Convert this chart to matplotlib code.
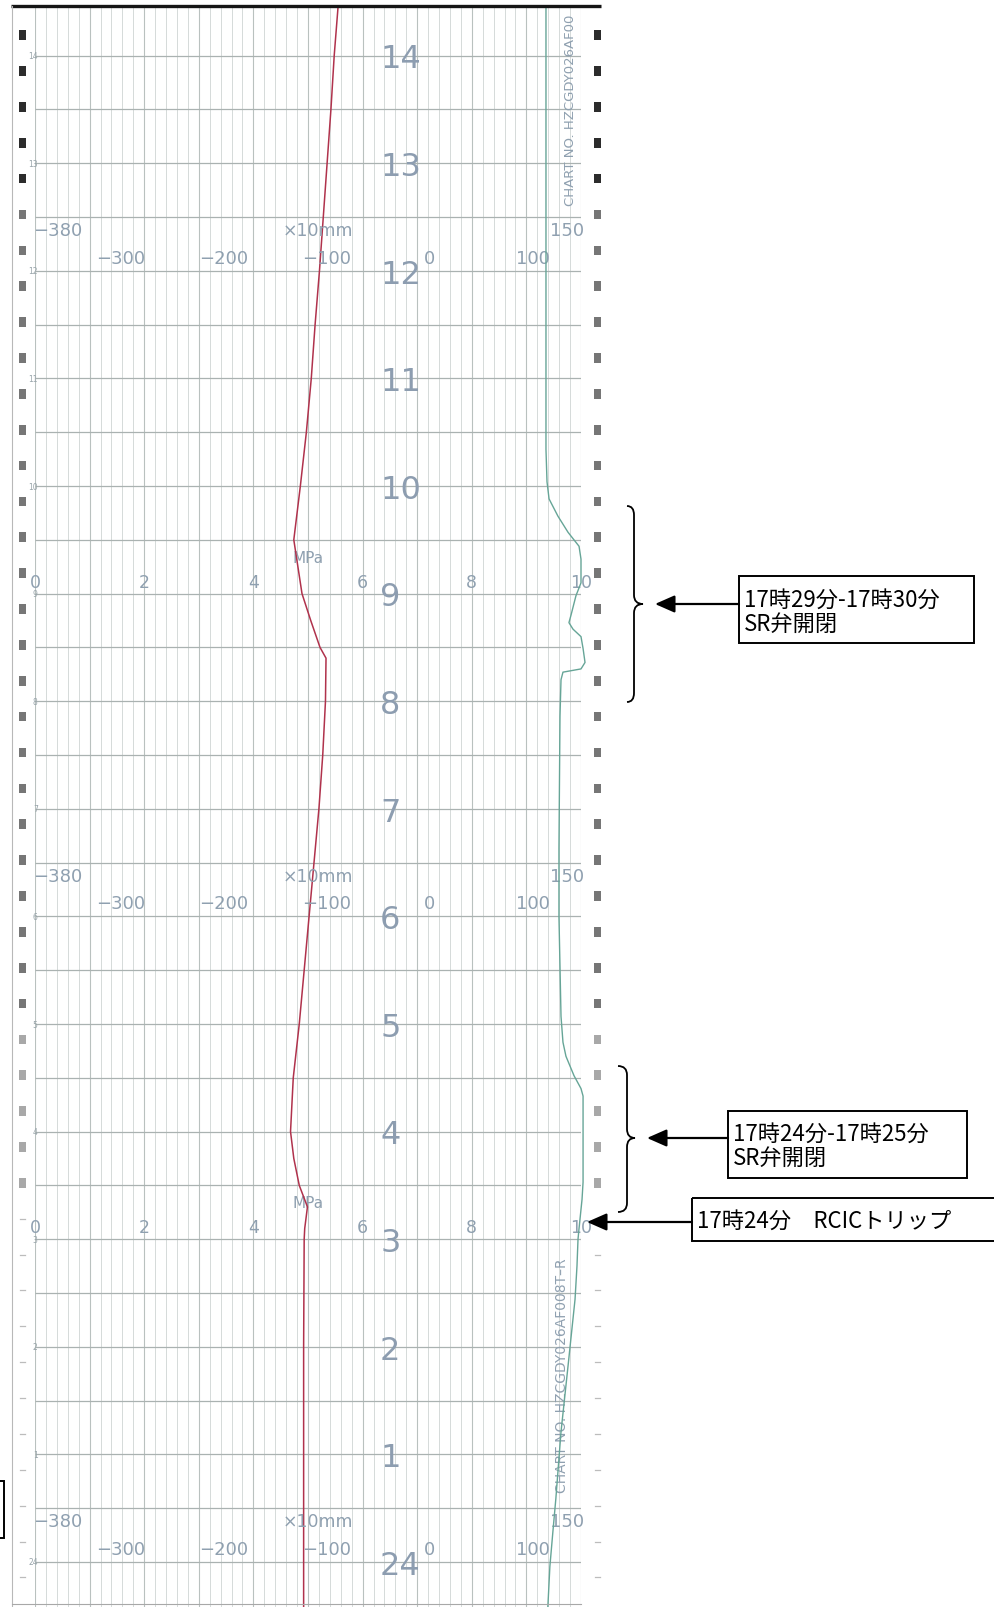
import numpy as np
import matplotlib
matplotlib.use('Agg')
import matplotlib.pyplot as plt
from matplotlib.patches import Rectangle, PathPatch
from matplotlib.path import Path
import matplotlib.transforms as mtransforms

# ---------------- data ----------------
hour_labels = ['24', '1', '2', '3', '4', '5', '6', '7', '8', '9', '10', '11', '12', '13', '14']
hour_levels = list(range(15))

mpa_ticks = [0, 2, 4, 6, 8, 10]
level_ticks = [-300, -200, -100, 0, 100]
level_min, level_max = -380, 150

# red pen (pressure, MPa) against chart position
red_pos = [14.45, 14.0, 13.5, 13.0, 12.5, 12.0, 11.5, 11.0, 10.5, 10.0, 9.5, 9.0, 8.75,
           8.5, 8.4, 8.0, 7.5, 7.0, 6.5, 6.0, 5.5, 5.0, 4.5, 4.0, 3.75, 3.5, 3.3, 3.1,
           3.0, 2.0, 1.0, 0.0, -0.42]
red_mpa = [5.55, 5.48, 5.42, 5.35, 5.28, 5.21, 5.13, 5.06, 4.97, 4.86, 4.74, 4.89, 5.05,
           5.22, 5.33, 5.32, 5.27, 5.20, 5.11, 5.02, 4.93, 4.84, 4.73, 4.68, 4.74, 4.84, 4.99, 4.94,
           4.93, 4.92, 4.92, 4.92, 4.92]

# green pen (water level, x10mm) against chart position
green_pos = [14.45, 10.34, 10.04, 9.88, 9.72, 9.57, 9.44, 9.32, 9.1, 8.98, 8.8, 8.73, 8.67,
             8.6, 8.49, 8.36, 8.3, 8.27, 8.2, 7.86, 6.63, 6.0, 5.07, 4.83, 4.7, 4.52, 4.4,
             4.33, 3.53, 3.37, 3.1, 3.0, 2.75, 2.44, 1.82, 1.21, 0.59, 0.28, -0.04, -0.42]
green_lvl = [116.0, 116.0, 117.0, 119.0, 127.6, 137.4, 148.1, 150.0, 150.0, 145.1, 140.3, 138.3, 142.2,
             150.0, 152.0, 153.9, 150.0, 132.5, 130.6, 129.6, 128.6, 128.6, 130.6, 132.5, 135.4, 143.2, 150.0,
             152.0, 152.0, 151.0, 148.1, 147.1, 146.1, 144.2, 137.4, 130.6, 125.6, 122.7, 119.8, 117.8]

notes = [
    {'lines': ['17時29分-17時30分', 'SR弁開閉']},
    {'lines': ['17時24分-17時25分', 'SR弁開閉']},
    {'lines': ['17時24分\u3000RCICトリップ']},
]
chart_no_top = 'CHART NO. HZCGDY026AF00'
chart_no_bottom = 'CHART NO. HZCGDY026AF008T\u2013R'

# ---------------- layout ----------------
W, H = 994, 1608
GX0, GX1 = 35, 581          # grid pixel extent
Y0PIX, PXU = 1563, 107.6    # pixel of position 0 and pixels per unit
ybot = (Y0PIX - H) / PXU
ytop_fig = Y0PIX / PXU
ytop_paper = (Y0PIX - 8) / PXU

grid_c = '#cfd5d3'
grid_major_c = '#b9c1bf'
hline_c = '#aab2b1'
label_c = '#8fa0b0'
jp = ['Noto Sans CJK JP', 'DejaVu Sans']

fig = plt.figure(figsize=(W / 100, H / 100), dpi=100)
fig.patch.set_facecolor('white')

ax = fig.add_axes([GX0 / W, 0, (GX1 - GX0) / W, 1])
ax.set_xlim(0, 10)
ax.set_ylim(ybot, ytop_fig)
ax.axis('off')
ax2 = ax.twiny()
ax2.set_xlim(level_min, level_max)
ax2.set_ylim(ybot, ytop_fig)
ax2.axis('off')

# vertical grid lines
xs = np.round(np.arange(0, 10.001, 0.2), 2)
minor = [x for x in xs if abs(x - round(x)) > 1e-6]
major = [x for x in xs if abs(x - round(x)) <= 1e-6]
ax.vlines(minor, ybot, ytop_paper, colors=grid_c, lw=0.6, zorder=1)
ax.vlines(major, ybot, ytop_paper, colors=grid_major_c, lw=0.8, zorder=1)
# horizontal lines every half unit
ax.hlines(np.arange(0, 14.01, 0.5), 0, 10, colors=hline_c, lw=0.9, zorder=1)

# big position numbers
for lv, lab in zip(hour_levels, hour_labels):
    ax.text(6.32, lv - 0.03, lab, fontsize=23, family=['Liberation Sans Narrow', 'DejaVu Sans'],
            color='#8d9db0', ha='left', va='center', zorder=2)
    ax.text(0.05, lv, lab, fontsize=5.5, color='#98a4aa', ha='right', va='center', zorder=2)

# MPa scale labels
for blk in [9, 3]:
    for t in mpa_ticks:
        ax.text(t, blk + 0.11, str(t), fontsize=12.5, color=label_c, ha='center', va='center', zorder=2)
    ax.text(5.0, blk + 0.34, 'MPa', fontsize=11, color=label_c, ha='center', va='center', zorder=2)

# level scale labels
for blk in [12, 6, 0]:
    ax2.text(-382, blk + 0.38, '\u2212380', fontsize=13, color=label_c, ha='left', va='center', zorder=2)
    ax2.text(-105, blk + 0.38, '\u00d710mm', fontsize=12.5, color=label_c, ha='center', va='center', zorder=2)
    ax2.text(153, blk + 0.38, '150', fontsize=13, color=label_c, ha='right', va='center', zorder=2)
    for t in level_ticks:
        s = ('\u2212' + str(-t)) if t < 0 else str(t)
        ax2.text(t + 3, blk + 0.12, s, fontsize=13, color=label_c, ha='center', va='center', zorder=2)

# chart numbers (rotated)
ax.text(9.8, 13.5, chart_no_top, rotation=90, fontsize=9.5, color=label_c,
        ha='center', va='center', zorder=2)
ax.text(9.66, 1.74, chart_no_bottom, rotation=90, fontsize=10, color=label_c,
        ha='center', va='center', zorder=2)

# pens
ax.plot(red_mpa, red_pos, color='#b0324c', lw=1.1, zorder=5, clip_on=False)
ax2.plot(green_lvl, green_pos, color='#66a597', lw=1.0, zorder=5, clip_on=False)

# ---------------- overlay (paper edges, holes, annotations) ----------------
ov = fig.add_axes([0, 0, 1, 1], zorder=10)
ov.set_xlim(0, W)
ov.set_ylim(H, 0)
ov.axis('off')

ov.plot([11, 601], [7, 7], color='#151515', lw=2.4, solid_capstyle='butt')
ov.plot([12, 12], [7, H], color='#b8b8b8', lw=0.8)
ov.plot([12, GX1], [1605, 1605], color='#a8a8a8', lw=0.8)

blend = mtransforms.blended_transform_factory(ov.transData, ax.transData)
hole_levels = 14.19 - np.arange(0, 44) / 3.0
for lv in hole_levels:
    if lv < ybot:
        continue
    for hx in (22, 597):
        if lv > 12.8:
            c = '#2c2c2c'
        elif lv > 5:
            c = '#767676'
        elif lv > 3.2:
            c = '#a8a8a8'
        else:
            c = None
        if c is not None:
            ov.add_patch(Rectangle((hx - 3.5, lv - 0.045), 7, 0.09, transform=blend,
                                   facecolor=c, edgecolor='none'))
        else:
            ov.plot([hx - 2.5, hx + 2.5], [lv, lv], transform=blend, color='#bcbcbc', lw=0.9)


def brace(x_end, x_mid, x_tip, y_top, y_mid, y_bot, r=9):
    verts = [(x_end, y_top), (x_mid, y_top), (x_mid, y_top + r),
             (x_mid, y_mid - r),
             (x_mid, y_mid), (x_tip, y_mid),
             (x_mid, y_mid), (x_mid, y_mid + r),
             (x_mid, y_bot - r),
             (x_mid, y_bot), (x_end, y_bot)]
    codes = [Path.MOVETO, Path.CURVE3, Path.CURVE3, Path.LINETO, Path.CURVE3, Path.CURVE3,
             Path.CURVE3, Path.CURVE3, Path.LINETO, Path.CURVE3, Path.CURVE3]
    ov.add_patch(PathPatch(Path(verts, codes), fill=False, lw=1.3, ec='black'))


aprops = dict(arrowstyle='-|>,head_length=0.5,head_width=0.22', mutation_scale=24,
              lw=1.6, color='black', shrinkA=0, shrinkB=0)

# note 1
ov.add_patch(Rectangle((739, 577), 235, 67, fill=False, lw=1.4, ec='black'))
ov.text(744, 600, notes[0]['lines'][0], fontsize=16, family=jp, ha='left', va='center')
ov.text(744, 624, notes[0]['lines'][1], fontsize=16, family=jp, ha='left', va='center')
ov.annotate('', xy=(655, 605), xytext=(739, 605), arrowprops=aprops)
brace(627, 634, 643, 507, 605, 703)

# note 2
ov.add_patch(Rectangle((728, 1112), 239, 67, fill=False, lw=1.4, ec='black'))
ov.text(733, 1134, notes[1]['lines'][0], fontsize=16, family=jp, ha='left', va='center')
ov.text(733, 1158, notes[1]['lines'][1], fontsize=16, family=jp, ha='left', va='center')
ov.annotate('', xy=(647, 1139), xytext=(728, 1139), arrowprops=aprops)
brace(618, 627, 635, 1067, 1139, 1213)

# note 3
ov.add_patch(Rectangle((692, 1199), 310, 43, fill=False, lw=1.4, ec='black', clip_on=True))
ov.text(697, 1221, notes[2]['lines'][0], fontsize=16, family=jp, ha='left', va='center')
ov.annotate('', xy=(587, 1223), xytext=(692, 1223), arrowprops=aprops)

# partial box at bottom-left edge
ov.add_patch(Rectangle((-20, 1482), 24, 57, fill=False, lw=1.4, ec='black'))

fig.savefig('out.png', dpi=100, facecolor='white')
